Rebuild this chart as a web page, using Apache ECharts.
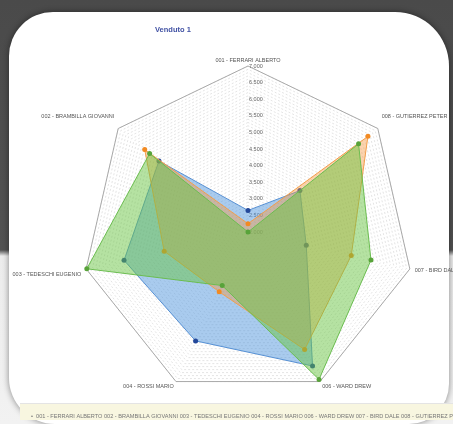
<!DOCTYPE html>
<html>
<head>
<meta charset="utf-8">
<script src="https://cdn.jsdelivr.net/npm/echarts@6/dist/echarts.min.js"></script>
<style>
  html, body { margin: 0; padding: 0; width: 453px; height: 424px; overflow: hidden; }
  body { background: linear-gradient(to bottom, #4a4a4a 0px, #525252 250px, #ececec 256px, #f2f2f2 424px); position: relative; }
  #card { position: absolute; left: 9px; top: 12px; width: 440px; height: 412px; background: #ffffff; border-radius: 44px 54px 40px 46px; box-shadow: 0 0 6px rgba(0,0,0,0.45); }
  #strip { position: absolute; left: 20px; top: 403px; width: 433px; height: 16px; background: #f8f6e0; border-top: 1px solid #e4e4e4; }
  #chart { position: absolute; left: 0; top: 0; width: 453px; height: 424px; }
</style>
</head>
<body>
<div id="card"></div>
<div id="strip"></div>
<div id="chart"></div>
<script>
const chartTitle = 'Venduto 1';
const categories = ['001 - FERRARI ALBERTO', '002 - BRAMBILLA GIOVANNI', '003 - TEDESCHI EUGENIO', '004 - ROSSI MARIO', '006 - WARD DREW', '007 - BIRD DALE', '008 - GUTIERREZ PETER'];
const seriesBlue   = [2650, 5430, 5830, 5640, 6480, 3800, 4000];
const seriesOrange = [2250, 5980, 4590, 4000, 5930, 5190, 6620];
const seriesGreen  = [2000, 5790, 6980, 3790, 6930, 5800, 6260];
const axisMin = 2000;
const axisMax = 7000;
const labelStep = 500;
const gridStep = 100;

function fmt(v) {
  return String(Math.round(v)).replace(/\B(?=(\d{3})+(?!\d))/g, '.');
}

const chart = echarts.init(document.getElementById('chart'), null, { renderer: 'canvas' });

const indicators = categories.map((c, i) => {
  const ind = { name: c, min: axisMin, max: axisMax };
  if (i === 0) {
    ind.nameGap = 0;
    ind.axisLabel = {
      show: true,
      fontSize: 5.5,
      color: '#666',
      fontFamily: 'Liberation Sans',
      margin: -1,
      align: 'left',
      formatter: function (v) { return ((v - axisMin) % labelStep === 0) ? fmt(v) : ''; }
    };
  }
  return ind;
});
const outerIndicators = categories.map(c => ({ name: c, min: axisMin, max: axisMax }));

const legendText = '•  ' + categories.join(' ');

chart.setOption({
  animation: false,
  backgroundColor: 'transparent',
  title: [
    { text: chartTitle, left: 150, top: 21, textStyle: { fontSize: 7.5, fontWeight: 'bold', color: '#4051a3', fontFamily: 'Liberation Sans' } },
    { text: legendText, left: 26, top: 408, textStyle: { fontSize: 5.6, fontWeight: 'normal', color: '#777', fontFamily: 'Liberation Sans' } }
  ],
  radar: [
    {
      center: [248, 232],
      radius: 166,
      startAngle: 90,
      splitNumber: (axisMax - axisMin) / gridStep,
      shape: 'polygon',
      indicator: indicators,
      axisName: {
        color: '#555', fontSize: 5.5, fontFamily: 'Liberation Sans',
        formatter: function (name) {
          if (name.indexOf('002') === 0 || name.indexOf('008') === 0) return name + '\n{gap2|}';
          if (name.indexOf('003') === 0) return '{gap|}\n' + name;
          return name;
        },
        rich: { gap: { lineHeight: 8, fontSize: 5.5 }, gap2: { lineHeight: 17, fontSize: 5.5 } }
      },
      nameGap: 5,
      axisLine: { show: false },
      axisTick: { show: false },
      axisLabel: { show: false },
      splitArea: { show: false },
      splitLine: { lineStyle: { color: '#d2d2d2', width: 0.6, type: [2, 2] } }
    },
    {
      center: [248, 232],
      radius: 166,
      startAngle: 90,
      splitNumber: 1,
      shape: 'polygon',
      indicator: outerIndicators,
      axisName: { show: false },
      axisLine: { show: false },
      axisTick: { show: false },
      axisLabel: { show: false },
      splitArea: { show: false },
      splitLine: { lineStyle: { color: '#a9a9a9', width: 1, type: 'solid' } }
    }
  ],
  series: [
    {
      type: 'radar', radarIndex: 0, name: 'A', z: 2,
      symbol: 'circle', symbolSize: 5,
      lineStyle: { color: '#5a8fd0', width: 1 },
      itemStyle: { color: '#23489a' },
      areaStyle: { color: 'rgba(80,148,220,0.7)' },
      data: [{ value: seriesBlue }]
    },
    {
      type: 'radar', radarIndex: 0, name: 'B', z: 3,
      symbol: 'circle', symbolSize: 5,
      lineStyle: { color: '#f2a04e', width: 1 },
      itemStyle: { color: '#f28a22' },
      areaStyle: { color: 'rgba(245,150,60,0.6)' },
      data: [{ value: seriesOrange }]
    },
    {
      type: 'radar', radarIndex: 0, name: 'C', z: 4,
      symbol: 'circle', symbolSize: 5,
      lineStyle: { color: '#6cba55', width: 1 },
      itemStyle: { color: '#58a33a' },
      areaStyle: { color: 'rgba(105,195,65,0.7)' },
      data: [{ value: seriesGreen }]
    }
  ]
});
</script>
</body>
</html>
